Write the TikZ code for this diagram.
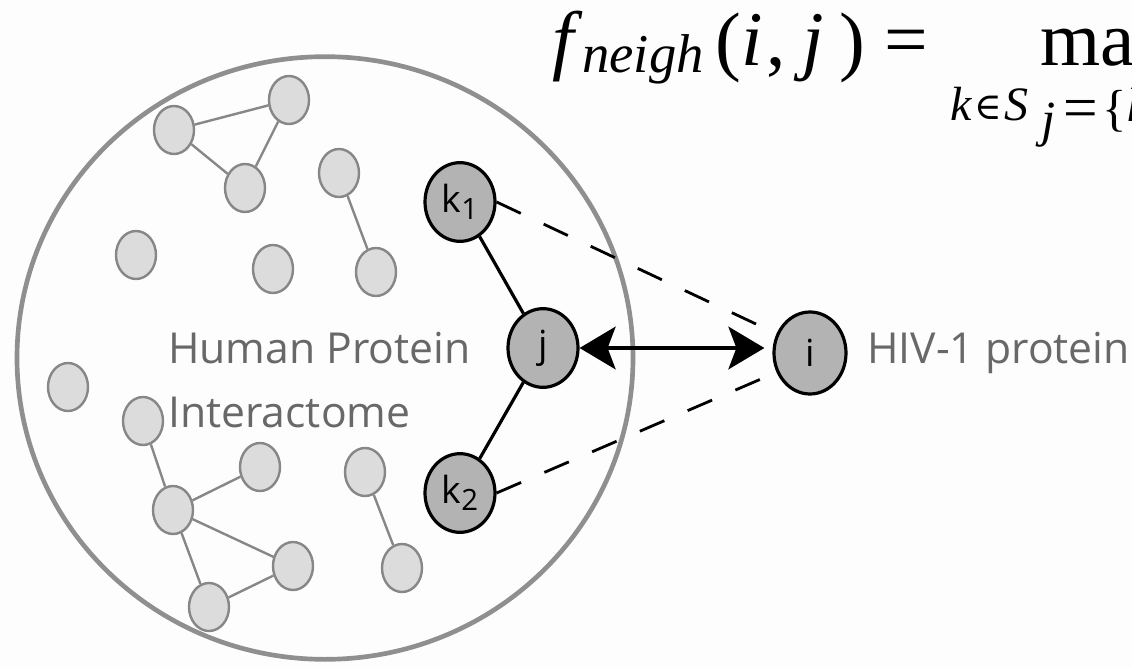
\documentclass[tikz,border=0pt]{standalone}
\usepackage{fontspec}
\usepackage{graphicx}
\setmainfont{Liberation Serif}
\newfontfamily\lblfont{Open Sans}
\newfontfamily\symfont{DejaVu Serif}
\usetikzlibrary{shapes.geometric,arrows.meta}
\definecolor{bgcol}{HTML}{FDFDFD}
\definecolor{ringcol}{HTML}{8F8F8F}
\definecolor{lfill}{HTML}{DCDCDC}
\definecolor{ledge}{HTML}{878787}
\definecolor{dfill}{HTML}{B3B3B3}
\definecolor{txtgray}{HTML}{686868}
\begin{document}
\begin{tikzpicture}[x=0.75pt,y=-0.75pt,
  ring/.style={ellipse,draw=ringcol,line width=3.5pt,minimum width=462pt,minimum height=452pt,inner sep=0pt},
  lnode/.style={ellipse,draw=ledge,fill=lfill,line width=1.8pt,minimum width=30pt,minimum height=36pt,inner sep=0pt},
  llink/.style={draw=ledge,line width=1.8pt},
  dnode/.style={ellipse,draw=black,fill=dfill,line width=2.4pt,minimum width=52.5pt,minimum height=59pt,inner sep=0pt,font=\lblfont\fontsize{28}{30}\selectfont},
  dlink/.style={draw=black,line width=2.4pt},
  dashlink/.style={draw=black,line width=2.1pt,dash pattern=on 20pt off 19pt},
  bigtext/.style={font=\lblfont\fontsize{32}{36}\selectfont,text=txtgray,inner sep=0pt,anchor=base west},
  mtext/.style={inner sep=0pt,anchor=base west,font=\fontsize{58}{62}\selectfont},
  mlim/.style={inner sep=0pt,anchor=base west,font=\fontsize{36}{38}\selectfont},
]
\useasboundingbox[fill=bgcol] (0,0) rectangle (1132,667);
\clip (0,0) rectangle (1132,667);

% interactome boundary
\node[ring] (ring) at (325,358) {};

% light nodes
\node[lnode] (A) at (174,130) {};
\node[lnode] (B) at (289,100) {};
\node[lnode] (C) at (245,188) {};
\node[lnode] (D) at (339,173) {};
\node[lnode] (E) at (136,255) {};
\node[lnode] (F) at (273,269) {};
\node[lnode] (G) at (376,272) {};
\node[lnode] (H) at (68,387) {};
\node[lnode] (I) at (143,421) {};
\node[lnode] (J) at (260,467) {};
\node[lnode] (K) at (173,510) {};
\node[lnode] (L) at (293,566) {};
\node[lnode] (M) at (209,607) {};
\node[lnode] (N) at (365,472) {};
\node[lnode] (O) at (402,568) {};

\draw[llink] (A) -- (B);
\draw[llink] (A) -- (C);
\draw[llink] (C) -- (B);
\draw[llink] (D) -- (G);
\draw[llink] (I) -- (K);
\draw[llink] (K) -- (J);
\draw[llink] (K) -- (L);
\draw[llink] (K) -- (M);
\draw[llink] (M) -- (L);
\draw[llink] (N) -- (O);

% dark nodes
\node[dnode] (k1) at (460,202) {k\raisebox{-5pt}{\fontsize{22}{24}\selectfont 1}};
\node[dnode] (j) at (543,348) {j};
\node[dnode] (k2) at (460,493) {k\raisebox{-5pt}{\fontsize{22}{24}\selectfont 2}};
\node[dnode,minimum width=54pt,minimum height=61.5pt] (i) at (810,353) {i};

\draw[dlink] (k1) -- (j);
\draw[dlink] (j) -- (k2);
\draw[dashlink] (k1.east) -- (i.150);
\draw[dashlink] (k2.east) -- (i.210);
\draw[dlink,{Stealth[length=27pt,width=32pt,inset=6pt]}-{Stealth[length=27pt,width=32pt,inset=6pt]},shorten >=6pt] (j.east) -- (j.east -| i.west);

% texts
\node[bigtext] (hp) at (168,363) {Human Protein};
\node[bigtext] (ia) at (168,427) {Interactome};
\node[bigtext] (hiv) at (867,363) {HIV-1 protein};

% formula
\node[mtext] (ff) at (552,65) {\itshape f};
\node[mtext,font=\fontsize{41}{44}\selectfont] (fsub) at (582,73) {\itshape neigh};
\node[mtext] (lp) at (715,67) {(};
\node[mtext] (fi) at (741,65) {\itshape i};
\node[mtext] (fc) at (766,65) {,};
\node[mtext] (fj) at (802,65) {\itshape j};
\node[mtext] (rp) at (839,67) {)};
\node[mtext] (feq) at (884,65) {=};
\node[mtext] (fmax) at (1040,65) {max};
\node[mlim] (lk) at (950,120) {\itshape k};
\node[mlim,font=\symfont\fontsize{28}{32}\selectfont] (lin) at (974,119) {∈};
\node[mlim] (lS) at (1004,120) {\itshape S};
\node[mlim,font=\fontsize{38}{40}\selectfont] (lj) at (1041,137) {\itshape j};
\node[mlim,font=\fontsize{46}{48}\selectfont] (leq) at (1063,128) {=};
\node[mlim,font=\fontsize{38}{40}\selectfont] (lbr) at (1102,125) {\{};
\node[mlim] (lk2) at (1127,122) {\itshape k};
\end{tikzpicture}
\end{document}
